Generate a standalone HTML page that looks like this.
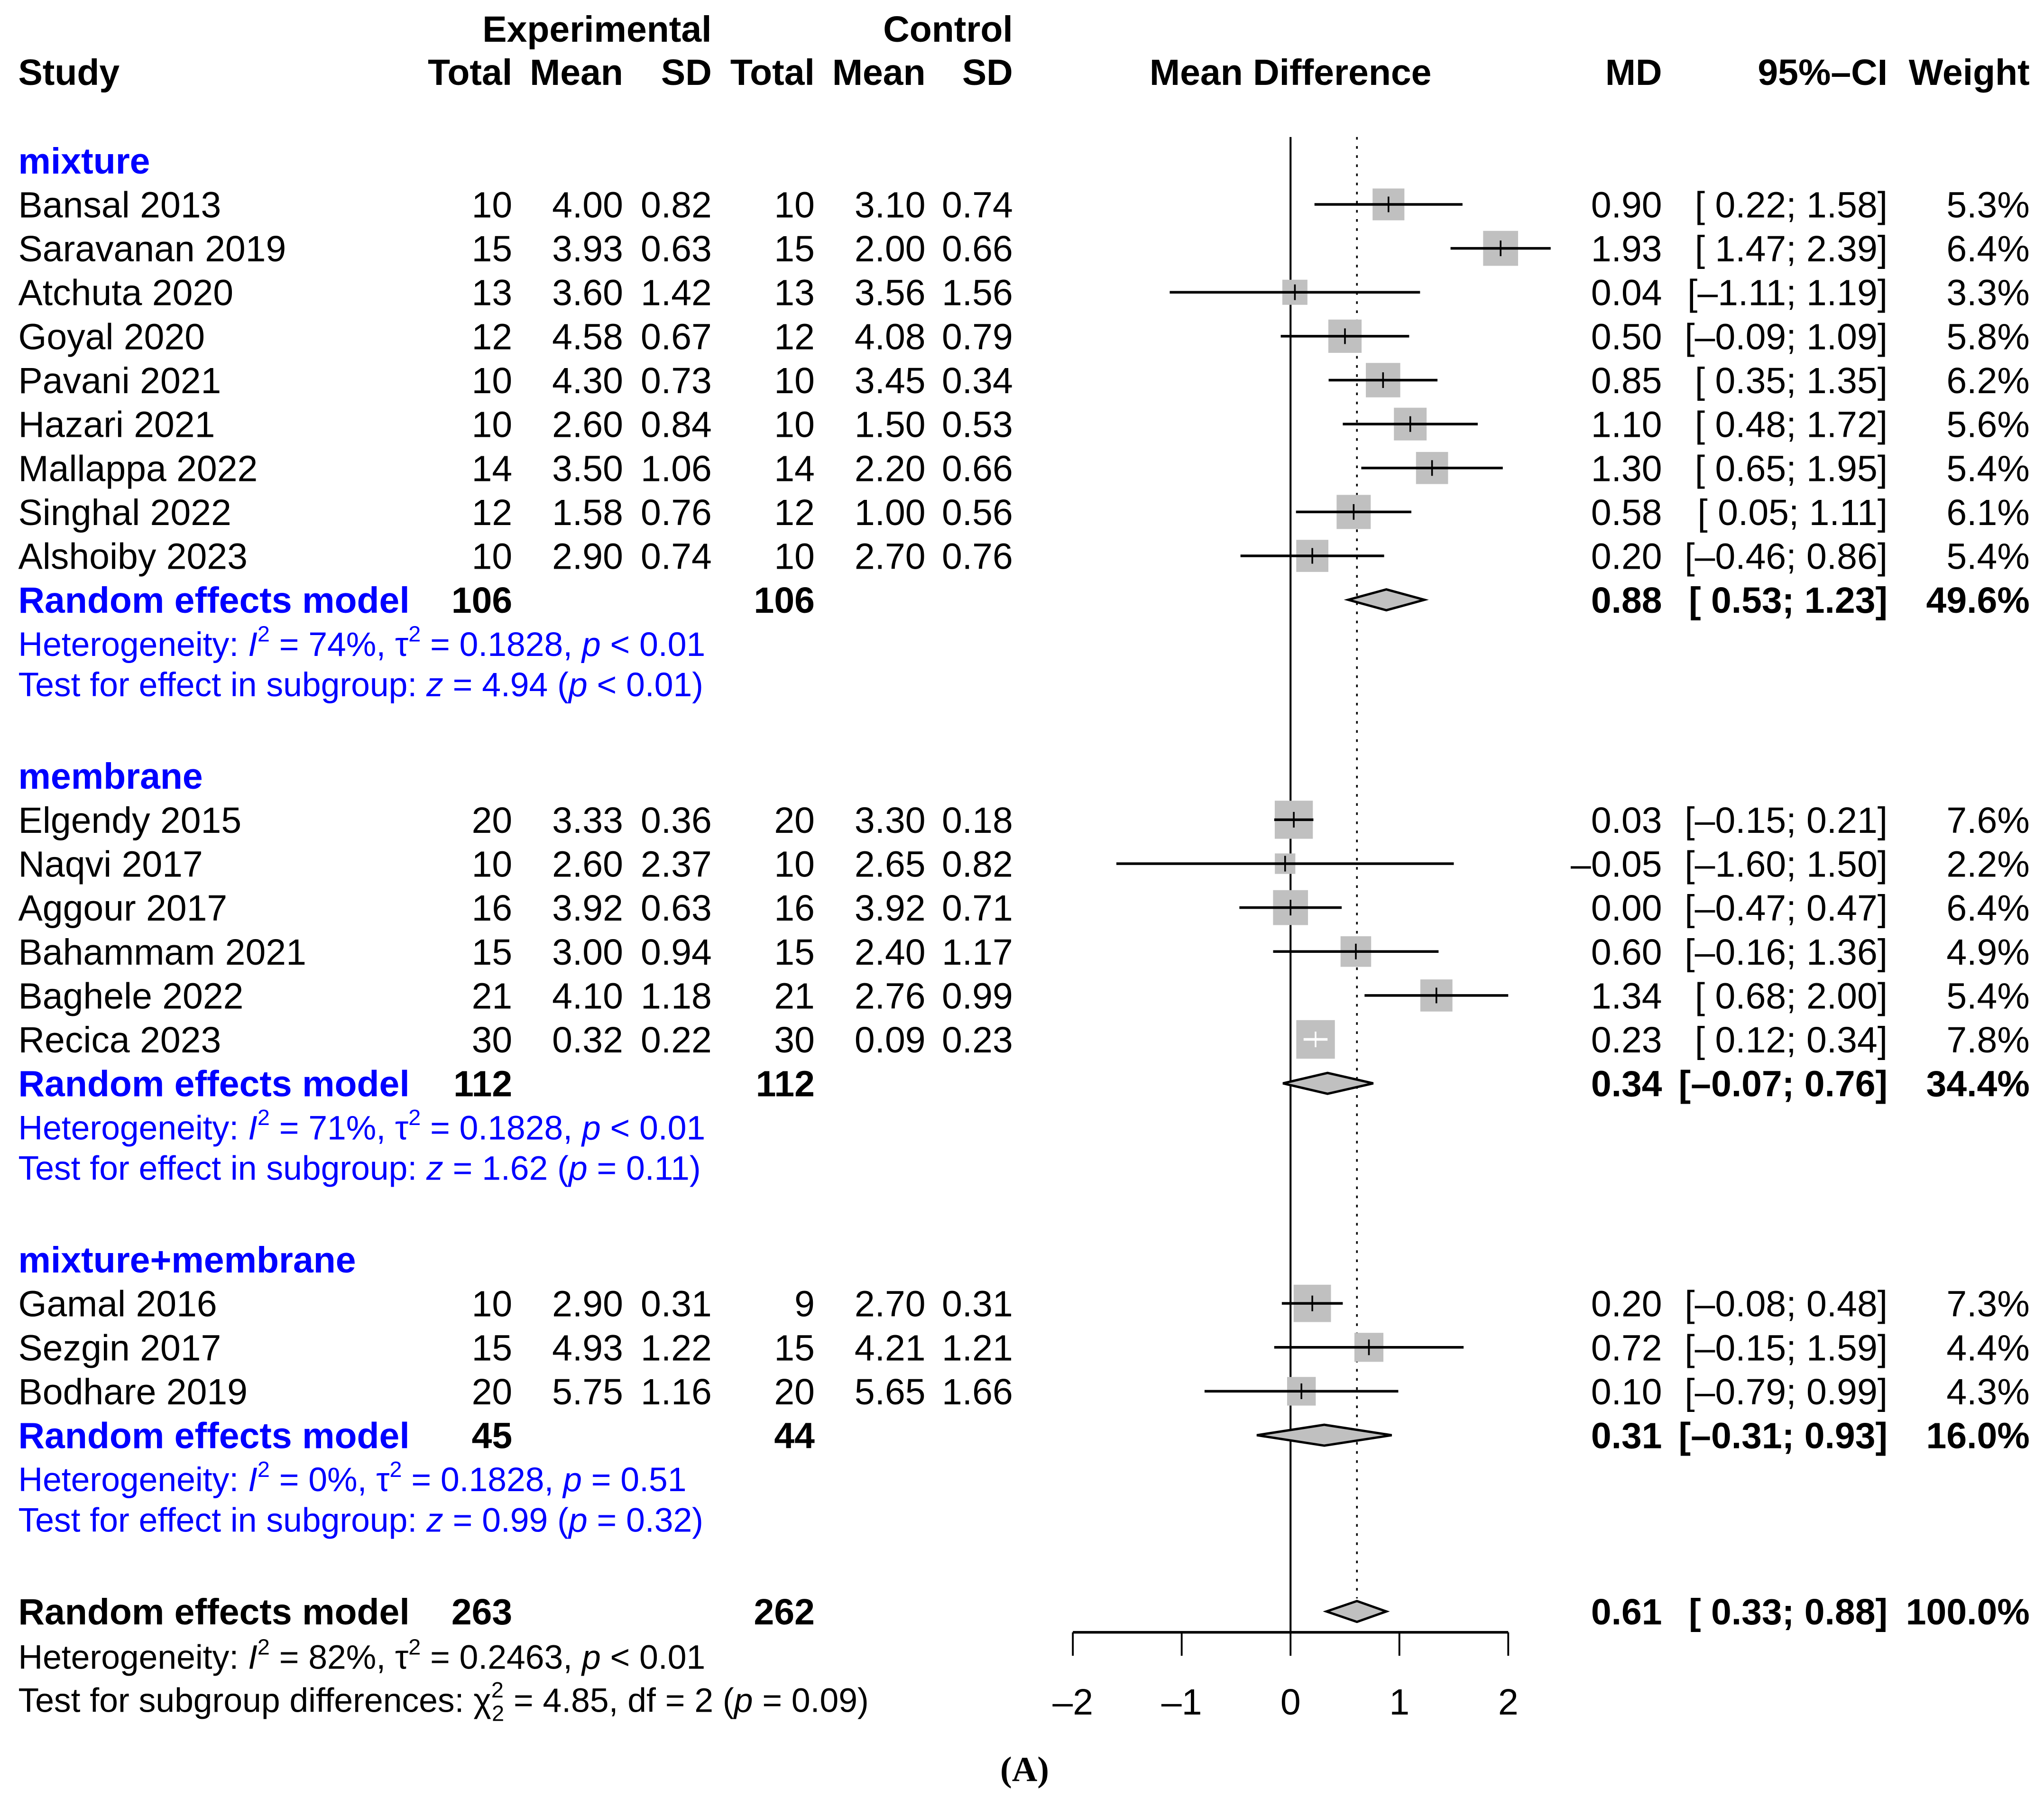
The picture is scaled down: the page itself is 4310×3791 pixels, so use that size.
<!DOCTYPE html>
<html><head><meta charset="utf-8"><style>
html,body{margin:0;padding:0;background:#fff;}
svg{display:block;}
text{font-family:"Liberation Sans",Arial,sans-serif;font-size:28px;}
text.sm{font-size:26px;}
tspan.sup{font-size:17px;}
</style></head><body>
<svg id="chart" xmlns="http://www.w3.org/2000/svg" width="4310" height="3791" viewBox="0 0 1568 1379" xml:space="preserve">
<rect width="1568" height="1379" fill="#fff"/>
</svg>
<script>
// ---- data ----
const studyNames = ["Bansal 2013","Saravanan 2019","Atchuta 2020","Goyal 2020","Pavani 2021","Hazari 2021","Mallappa 2022","Singhal 2022","Alshoiby 2023",
 "Elgendy 2015","Naqvi 2017","Aggour 2017","Bahammam 2021","Baghele 2022","Recica 2023",
 "Gamal 2016","Sezgin 2017","Bodhare 2019"];
const studyGroup = [0,0,0,0,0,0,0,0,0,1,1,1,1,1,1,2,2,2];
const expTotal = [10,15,13,12,10,10,14,12,10,20,10,16,15,21,30,10,15,20];
const expMean = ["4.00","3.93","3.60","4.58","4.30","2.60","3.50","1.58","2.90","3.33","2.60","3.92","3.00","4.10","0.32","2.90","4.93","5.75"];
const expSD = ["0.82","0.63","1.42","0.67","0.73","0.84","1.06","0.76","0.74","0.36","2.37","0.63","0.94","1.18","0.22","0.31","1.22","1.16"];
const ctlTotal = [10,15,13,12,10,10,14,12,10,20,10,16,15,21,30,9,15,20];
const ctlMean = ["3.10","2.00","3.56","4.08","3.45","1.50","2.20","1.00","2.70","3.30","2.65","3.92","2.40","2.76","0.09","2.70","4.21","5.65"];
const ctlSD = ["0.74","0.66","1.56","0.79","0.34","0.53","0.66","0.56","0.76","0.18","0.82","0.71","1.17","0.99","0.23","0.31","1.21","1.66"];
const md = [0.90,1.93,0.04,0.50,0.85,1.10,1.30,0.58,0.20,0.03,-0.05,0.00,0.60,1.34,0.23,0.20,0.72,0.10];
const lower = [0.22,1.47,-1.11,-0.09,0.35,0.48,0.65,0.05,-0.46,-0.15,-1.60,-0.47,-0.16,0.68,0.12,-0.08,-0.15,-0.79];
const upper = [1.58,2.39,1.19,1.09,1.35,1.72,1.95,1.11,0.86,0.21,1.50,0.47,1.36,2.00,0.34,0.48,1.59,0.99];
const weight = [5.3,6.4,3.3,5.8,6.2,5.6,5.4,6.1,5.4,7.6,2.2,6.4,4.9,5.4,7.8,7.3,4.4,4.3];

const groupNames = ["mixture","membrane","mixture+membrane"];
const groupExpTotal = [106,112,45];
const groupCtlTotal = [106,112,44];
const groupMD = [0.88,0.34,0.31];
const groupLower = [0.53,-0.07,-0.31];
const groupUpper = [1.23,0.76,0.93];
const groupWeight = ["49.6%","34.4%","16.0%"];
const groupI2 = ["74%","71%","0%"];
const groupTau2 = ["0.1828","0.1828","0.1828"];
const groupP = ["p < 0.01","p < 0.01","p = 0.51"];
const groupZ = ["4.94","1.62","0.99"];
const groupZp = ["p < 0.01","p = 0.11","p = 0.32"];

const overallExp = 263, overallCtl = 262;
const overallMD = 0.61, overallLower = 0.33, overallUpper = 0.88;
const axisTicks = [-2,-1,0,1,2];
const axisTickLabels = ["–2","–1","0","1","2"];

// ---- layout ----
const svg = document.getElementById('chart');
const NS = "http://www.w3.org/2000/svg";
const X0 = 990, XU = 83.5;
function xs(v){ return X0 + XU*v; }
function el(tag, attrs, parent){
  const e = document.createElementNS(NS, tag);
  for (const k in attrs) e.setAttribute(k, attrs[k]);
  (parent||svg).appendChild(e);
  return e;
}
function txt(x, y, s, opts){
  opts = opts||{};
  const t = el('text', {x:x, y:y+10, 'text-anchor':opts.anchor||'start', fill:opts.fill||'#000', 'font-weight':opts.bold?'bold':'normal'});
  t.textContent = s;
  
  
  return t;
}
function fmt(v){ return (v<0?"–":"") + Math.abs(v).toFixed(2); }
function ci(l,u){ return "[" + (l<0?"":" ") + fmt(l) + "; " + fmt(u) + "]"; }

// headers
txt(458,22,"Experimental",{anchor:'middle',bold:true,name:'experimental-header'});
txt(777,22,"Control",{anchor:'end',bold:true,name:'control-header'});
txt(14,55,"Study",{bold:true,name:'study-header'});
[[393,"Total"],[478,"Mean"],[546,"SD"],[625,"Total"],[710,"Mean"],[777,"SD"]].forEach(h=>txt(h[0],55,h[1],{anchor:'end',bold:true,name:'column-header'}));
txt(990,55,"Mean Difference",{anchor:'middle',bold:true,name:'mean-difference-header'});
txt(1275,55,"MD",{anchor:'end',bold:true,name:'md-header'});
txt(1448,55,"95%–CI",{anchor:'end',bold:true,name:'ci-header'});
txt(1557,55,"Weight",{anchor:'end',bold:true,name:'weight-header'});

// reference lines
const zl = el('line',{x1:xs(0),x2:xs(0),y1:105,y2:1252,stroke:'#000','stroke-width':1.5});


const dl = el('line',{x1:xs(overallMD),x2:xs(overallMD),y1:105,y2:1226,stroke:'#000','stroke-width':1.3,'stroke-dasharray':'2,5'});



function hetText(y, pre, i2, tau, p, color){
  const t = el('text',{x:14,y:y+9,fill:color,'class':'sm'});
  
  
  t.innerHTML = 'Heterogeneity: <tspan font-style="italic">I</tspan><tspan class="sup" dy="-11">2</tspan><tspan dy="11"> = '+i2+', τ</tspan><tspan class="sup" dy="-11">2</tspan><tspan dy="11"> = '+tau+', </tspan><tspan font-style="italic">p</tspan> '+p.slice(2);
}
function diamond(y, m, l, u, name){
  const h = 8;
  const d = el('polygon',{points:`${xs(l)},${y} ${xs(m)},${y-h} ${xs(u)},${y} ${xs(m)},${y+h}`,fill:'#c0c0c0',stroke:'#000','stroke-width':1.8});
  
  
}

const groupStartY = [123,595,966];
const ROW = 33.7;
for (let g=0; g<3; g++){
  let y = groupStartY[g];
  txt(14,y,groupNames[g],{bold:true,fill:'#0000ff',name:'subgroup-title'});
  const members = studyNames.map((n,i)=>i).filter(i=>studyGroup[i]===g);
  members.forEach(i=>{
    y += ROW;
    txt(14,y,studyNames[i],{name:'study-name'});
    txt(393,y,String(expTotal[i]),{anchor:'end',name:'exp-total'});
    txt(478,y,expMean[i],{anchor:'end',name:'exp-mean'});
    txt(546,y,expSD[i],{anchor:'end',name:'exp-sd'});
    txt(625,y,String(ctlTotal[i]),{anchor:'end',name:'ctl-total'});
    txt(710,y,ctlMean[i],{anchor:'end',name:'ctl-mean'});
    txt(777,y,ctlSD[i],{anchor:'end',name:'ctl-sd'});
    txt(1275,y,fmt(md[i]),{anchor:'end',name:'md-value'});
    txt(1448,y,ci(lower[i],upper[i]),{anchor:'end',name:'ci-value'});
    txt(1557,y,weight[i].toFixed(1)+"%",{anchor:'end',name:'weight-value'});
    const s = 10.6*Math.sqrt(weight[i]);
    const b = el('rect',{x:xs(md[i])-s/2,y:y-s/2,width:s,height:s,fill:'#c0c0c0'});
    
    
    const inside = (xs(upper[i])-xs(lower[i])) < s;
    const col = inside ? '#fff' : '#000';
    const ln = el('line',{x1:xs(lower[i]),x2:xs(upper[i]),y1:y,y2:y,stroke:col,'stroke-width':2});
    
    
    const tk = el('line',{x1:xs(md[i]),x2:xs(md[i]),y1:y-6,y2:y+6,stroke:col,'stroke-width':1.3});
    
    
  });
  y += ROW;
  txt(14,y,"Random effects model",{bold:true,fill:'#0000ff',name:'subgroup-model-label'});
  txt(393,y,String(groupExpTotal[g]),{anchor:'end',bold:true,name:'subgroup-exp-total'});
  txt(625,y,String(groupCtlTotal[g]),{anchor:'end',bold:true,name:'subgroup-ctl-total'});
  txt(1275,y,fmt(groupMD[g]),{anchor:'end',bold:true,name:'subgroup-md'});
  txt(1448,y,ci(groupLower[g],groupUpper[g]),{anchor:'end',bold:true,name:'subgroup-ci'});
  txt(1557,y,groupWeight[g],{anchor:'end',bold:true,name:'subgroup-weight'});
  diamond(y, groupMD[g], groupLower[g], groupUpper[g], 'subgroup-diamond');
  y += 34;
  hetText(y,'',groupI2[g],groupTau2[g],groupP[g],'#0000ff');
  y += 31;
  const t = el('text',{x:14,y:y+9,fill:'#0000ff','class':'sm'});
  
  
  t.innerHTML = 'Test for effect in subgroup: <tspan font-style="italic">z</tspan> = '+groupZ[g]+' (<tspan font-style="italic">p</tspan> '+groupZp[g].slice(2)+')';
}

// overall
const oy = 1236;
txt(14,oy,"Random effects model",{bold:true,name:'overall-model-label'});
txt(393,oy,String(overallExp),{anchor:'end',bold:true,name:'overall-exp-total'});
txt(625,oy,String(overallCtl),{anchor:'end',bold:true,name:'overall-ctl-total'});
txt(1275,oy,fmt(overallMD),{anchor:'end',bold:true,name:'overall-md'});
txt(1448,oy,ci(overallLower,overallUpper),{anchor:'end',bold:true,name:'overall-ci'});
txt(1557,oy,"100.0%",{anchor:'end',bold:true,name:'overall-weight'});
diamond(oy, overallMD, overallLower, overallUpper, 'overall-diamond');
hetText(1271,'',"82%","0.2463","p < 0.01",'#000');
const tt = el('text',{x:14,y:1313,'class':'sm'});


tt.innerHTML = 'Test for subgroup differences: χ<tspan class="sup" dy="-11">2</tspan><tspan class="sup" dx="-9" dy="18">2</tspan><tspan dy="-7"> = 4.85, df = 2 (</tspan><tspan font-style="italic">p</tspan> = 0.09)';

// axis
const ax = el('line',{x1:xs(axisTicks[0]),x2:xs(axisTicks[axisTicks.length-1]),y1:1252,y2:1252,stroke:'#000','stroke-width':2});


axisTicks.forEach((v,i)=>{
  const l = el('line',{x1:xs(v),x2:xs(v),y1:1252,y2:1270,stroke:'#000','stroke-width':1.4});
  
  
  txt(xs(v),1305,axisTickLabels[i],{anchor:'middle',name:'x-tick-label'});
});
const cap = el('text',{x:786,y:1366,'text-anchor':'middle','font-weight':'bold',style:'font-family:"Liberation Serif",serif;font-size:27px'});
cap.textContent = "(A)";


</script>
</body></html>
